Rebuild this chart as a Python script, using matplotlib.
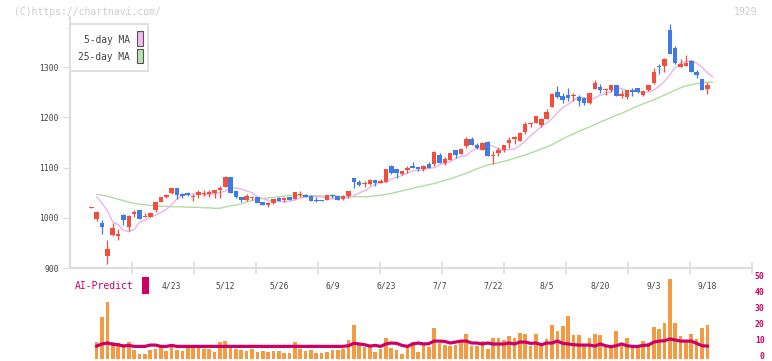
import matplotlib
matplotlib.use('Agg')
import matplotlib.pyplot as plt
import matplotlib.transforms as mtransforms
import numpy as np
from matplotlib.patches import Rectangle

# ---------------- data ----------------
opens = [1020, 998, 990, 923, 965, 963, 1005, 982, 1008, 1015,
         1001, 1001, 1015, 1031, 1042, 1049, 1059, 1047, 1049, 1041,
         1045, 1047, 1047, 1049, 1055, 1061, 1081, 1053, 1041, 1036,
         1039, 1041, 1031, 1026, 1030, 1040, 1035, 1041, 1038, 1046,
         1045, 1043, 1036, 1036, 1036, 1045, 1043, 1038, 1043, 1079,
         1071, 1067, 1067, 1075, 1070, 1072, 1103, 1098, 1087, 1095,
         1103, 1102, 1097, 1107, 1107, 1125, 1110, 1116, 1135, 1128,
         1144, 1157, 1145, 1136, 1150, 1123, 1130, 1136, 1149, 1157,
         1153, 1170, 1187, 1188, 1184, 1197, 1220, 1251, 1243, 1245,
         1243, 1241, 1238, 1229, 1256, 1261, 1254, 1255, 1265, 1243,
         1241, 1254, 1258, 1245, 1255, 1269, 1303, 1302, 1375, 1339,
         1300, 1303, 1312, 1290, 1276, 1257]
closes = [1022, 1011, 982, 937, 980, 967, 995, 1003, 1012, 997,
          1004, 1010, 1031, 1041, 1046, 1059, 1045, 1043, 1045, 1044,
          1051, 1049, 1052, 1055, 1059, 1081, 1050, 1042, 1035, 1043,
          1041, 1030, 1026, 1030, 1037, 1034, 1040, 1035, 1051, 1048,
          1042, 1034, 1034, 1034, 1045, 1043, 1036, 1043, 1053, 1072,
          1065, 1069, 1075, 1070, 1073, 1097, 1090, 1090, 1093, 1100,
          1099, 1097, 1103, 1099, 1131, 1110, 1118, 1129, 1125, 1137,
          1157, 1145, 1140, 1149, 1124, 1125, 1136, 1145, 1155, 1161,
          1169, 1187, 1189, 1203, 1196, 1211, 1247, 1241, 1234, 1239,
          1245, 1232, 1228, 1249, 1269, 1255, 1256, 1265, 1242, 1246,
          1254, 1251, 1251, 1253, 1264, 1291, 1300, 1316, 1326, 1308,
          1306, 1309, 1291, 1285, 1254, 1265]
highs = [1022, 1014, 995, 955, 989, 977, 1008, 1005, 1015, 1015,
         1009, 1012, 1032, 1041, 1046, 1059, 1059, 1049, 1051, 1047,
         1055, 1055, 1055, 1055, 1064, 1083, 1081, 1053, 1041, 1047,
         1041, 1041, 1031, 1031, 1037, 1041, 1042, 1041, 1051, 1053,
         1047, 1045, 1041, 1036, 1045, 1047, 1043, 1045, 1053, 1079,
         1075, 1073, 1077, 1075, 1077, 1097, 1105, 1098, 1093, 1103,
         1112, 1102, 1105, 1111, 1134, 1129, 1121, 1129, 1135, 1140,
         1160, 1161, 1149, 1151, 1152, 1133, 1142, 1145, 1160, 1163,
         1171, 1190, 1189, 1203, 1199, 1217, 1249, 1263, 1248, 1259,
         1249, 1244, 1241, 1249, 1275, 1266, 1258, 1265, 1265, 1254,
         1254, 1258, 1258, 1253, 1264, 1298, 1306, 1319, 1387, 1343,
         1317, 1325, 1314, 1295, 1277, 1271]
lows = [1020, 994, 967, 907, 963, 955, 985, 973, 1002, 997,
        1001, 1001, 1012, 1031, 1039, 1047, 1037, 1039, 1043, 1034,
        1039, 1044, 1042, 1039, 1039, 1061, 1050, 1039, 1032, 1033,
        1036, 1030, 1026, 1021, 1027, 1034, 1032, 1035, 1038, 1042,
        1042, 1034, 1032, 1034, 1036, 1040, 1036, 1035, 1040, 1059,
        1063, 1062, 1065, 1063, 1069, 1072, 1088, 1080, 1085, 1089,
        1099, 1093, 1093, 1099, 1103, 1110, 1105, 1116, 1119, 1128,
        1140, 1145, 1137, 1136, 1124, 1107, 1124, 1131, 1139, 1147,
        1153, 1167, 1181, 1188, 1181, 1197, 1220, 1239, 1229, 1232,
        1232, 1223, 1225, 1227, 1256, 1249, 1245, 1251, 1242, 1239,
        1237, 1242, 1249, 1242, 1252, 1266, 1286, 1291, 1326, 1306,
        1300, 1302, 1291, 1278, 1254, 1246]

# moving averages before the window is full
ma5_head = [1042, 1029, 1014, 992]
ma25_head = [1047, 1045, 1043, 1040, 1037, 1034, 1031, 1029, 1027, 1026,
             1025, 1024, 1023, 1023, 1022, 1022, 1022, 1021, 1021, 1021,
             1020, 1020, 1019, 1019]

# volume (from 2nd session on)
volume = [10.6, 26.3, 35.6, 10.6, 10.0, 9.2, 10.6, 5.4, 2.9, 2.9,
          5.4, 6.0, 7.5, 4.8, 7.1, 5.4, 5.0, 7.5, 7.5, 7.5,
          6.0, 6.0, 4.2, 10.6, 11.3, 7.1, 6.3, 5.4, 4.6, 6.0,
          4.4, 4.8, 4.0, 4.8, 4.8, 3.5, 3.5, 10.4, 6.3, 5.0,
          5.4, 3.5, 3.5, 4.4, 5.4, 5.4, 6.0, 11.7, 21.0, 10.0,
          7.1, 7.1, 4.4, 6.0, 12.9, 6.7, 5.4, 2.9, 7.5, 10.4,
          4.4, 9.2, 7.1, 19.2, 10.0,
          8.75, 7.7, 8.5, 11.5, 15.4, 7.9, 7.9, 11.0, 6.0, 12.9,
          12.9, 11.7, 14.2, 12.9, 16.0, 15.4, 7.9, 15.4, 7.9, 12.3,
          21.0, 17.3, 20.4, 26.7, 14.8, 14.8, 7.9, 12.9, 15.4, 14.8,
          7.9, 7.9, 17.3, 7.9, 12.9, 7.9, 7.9, 11.0, 9.8, 19.8,
          18.5, 22.3, 49.8, 22.3, 14.2, 10.4, 15.4, 12.3, 19.2, 21.0]
ai_predict = [7.9, 9.2, 9.8, 9.0, 8.75, 7.9, 8.3, 7.7, 7.7, 7.7,
              8.5, 8.5, 7.7, 7.7, 8.3, 7.7, 7.7, 7.7, 7.7, 7.7,
              7.7, 7.7, 7.7, 7.7, 7.7, 7.7, 7.7, 7.7, 7.7, 7.7,
              7.7, 7.7, 7.7, 7.7, 7.7, 7.7, 7.7, 7.7, 7.7, 7.7,
              7.7, 7.7, 7.7, 7.7, 7.7, 7.7, 7.7, 8.1, 9.6, 9.2,
              8.75, 7.9, 8.3, 7.7, 9.2, 9.8, 9.6, 8.3, 7.7, 9.2,
              9.8, 9.2, 9.4, 11.0, 11.0,
              10.8, 9.8, 10.4, 11.0, 11.0, 9.8, 9.8, 9.2, 9.8, 9.2,
              9.2, 9.2, 9.8, 9.2, 10.4, 10.4, 9.6, 9.8, 8.75, 9.8,
              9.8, 11.0, 9.6, 9.2, 8.75, 8.5, 8.5, 8.5, 7.9, 9.2,
              8.1, 7.5, 8.1, 9.2, 8.1, 7.7, 7.7, 8.3, 8.5, 10.4,
              11.0, 11.25, 12.3, 11.7, 11.0, 11.0, 11.0, 9.6, 8.1, 7.9]

date_labels = ['4/23', '5/12', '5/26', '6/9', '6/23', '7/7', '7/22',
               '8/5', '8/20', '9/3', '9/18']
date_label_idx = [15, 25, 35, 45, 55, 65, 75, 85, 95, 105, 115]
price_ticks = [900, 1000, 1100, 1200, 1300]
vol_ticks = [0, 10, 20, 30, 40, 50]

# ---------------- layout ----------------
W, H = 772, 361
fig = plt.figure(figsize=(W / 100, H / 100), dpi=100)
MONO = 'DejaVu Sans Mono'
RED = '#f24e3c'
BLUE = '#3f7ae6'
GRID = '#dddddd'

x0_px, dx_px = 91.3, 5.357
xl = ((70 - x0_px) / dx_px, (752 - x0_px) / dx_px)

# volume panel (drawn first, transparent background)
axv = fig.add_axes([70 / W, (H - 358.7) / H, (752 - 70) / W, 80 / H])
axv.patch.set_visible(False)
axv.set_xlim(*xl)
axv.set_ylim(0, 50)
vidx = np.arange(1, len(volume) + 1)
axv.bar(vidx, volume, width=0.68, color='#f39a42', lw=0)
axv.plot(vidx, ai_predict, color='#cc0066', lw=2.3, solid_joinstyle='miter')
for s in axv.spines.values():
    s.set_visible(False)
axv.set_xticks([])
axv.yaxis.tick_right()
axv.set_yticks(vol_ticks)
axv.set_yticklabels([str(t) for t in vol_ticks], family=MONO, fontsize=5.8,
                    color='#cc0066', fontweight='bold')
axv.tick_params(axis='y', length=0, pad=9)
lift = mtransforms.ScaledTranslation(0, 2 / 100, fig.dpi_scale_trans)
for t in axv.get_yticklabels():
    t.set_horizontalalignment('right')
    t.set_verticalalignment('center')
    t.set_transform(t.get_transform() + lift)

ax = fig.add_axes([70 / W, (H - 268) / H, (752 - 70) / W, (268 - 17) / H])
ax.patch.set_visible(False)
ax.set_xlim(*xl)
ax.set_ylim(900, 1400)

n = len(opens)
idx = np.arange(n)
o = np.array(opens, float)
c = np.array(closes, float)
h = np.array(highs, float)
l = np.array(lows, float)
cols = [RED if cc >= oo else BLUE for oo, cc in zip(o, c)]

# moving averages (plotted one session later)
cs = np.array(closes, float)
ma5 = list(ma5_head) + [cs[i - 4:i + 1].mean() for i in range(4, n)]
ma25 = list(ma25_head) + [cs[i - 24:i + 1].mean() for i in range(24, n)]
ax.plot(idx + 1, ma25, color='#b3dba3', lw=1.0, zorder=1)
ax.plot(idx + 1, ma5, color='#eab4ee', lw=1.0, zorder=1)

ax.vlines(idx, l, h, colors=cols, lw=0.9, zorder=2)
ax.bar(idx, np.abs(c - o), bottom=np.minimum(o, c), width=0.85,
       color=cols, lw=0, zorder=3)

for s in ['top', 'right']:
    ax.spines[s].set_visible(False)
for s in ['left', 'bottom']:
    ax.spines[s].set_color(GRID)
    ax.spines[s].set_linewidth(1.6)

ax.set_yticks(price_ticks)
ax.set_yticklabels([str(t) for t in price_ticks], family=MONO, fontsize=5.8,
                   color='#444444')
ax.tick_params(axis='y', direction='out', length=5, width=1, color=GRID, pad=3)

ax.set_xticks(np.linspace(xl[0], xl[1], 12)[1:])
ax.set_xticklabels([])
ax.tick_params(axis='x', which='major', direction='inout', length=8,
               width=1.2, color=GRID)
ax.set_xticks(date_label_idx, minor=True)
ax.set_xticklabels(date_labels, minor=True, family=MONO, fontsize=5.8,
                   color='#444444')
ax.tick_params(axis='x', which='minor', length=0, pad=10)


def fx(px):
    return px / W


def fy(py):
    return 1 - py / H


# legend box
fig.patches.append(Rectangle((fx(70), fy(71)), fx(148) - fx(70), fy(24) - fy(71),
                             transform=fig.transFigure, facecolor='white',
                             edgecolor=GRID, lw=1.3, zorder=5))
fig.text(fx(130), fy(40), '5-day MA', ha='right', va='center', family=MONO,
         fontsize=6.9, color='#444444', zorder=6)
fig.text(fx(130), fy(57), '25-day MA', ha='right', va='center', family=MONO,
         fontsize=6.9, color='#444444', zorder=6)
fig.patches.append(Rectangle((fx(137), fy(46)), fx(6), fy(0) - fy(15),
                             transform=fig.transFigure, facecolor='#f0bcf0',
                             edgecolor='#555555', lw=0.8, zorder=6))
fig.patches.append(Rectangle((fx(137), fy(63)), fx(6), fy(0) - fy(14),
                             transform=fig.transFigure, facecolor='#bde0b0',
                             edgecolor='#555555', lw=0.8, zorder=6))

fig.text(fx(14), fy(12), '(C)https://chartnavi.com/', ha='left', va='center',
         family=MONO, fontsize=7, color='#cccccc')
fig.text(fx(757), fy(12), '1929', ha='right', va='center',
         family=MONO, fontsize=7, color='#cccccc')

fig.text(fx(75), fy(286), 'AI-Predict', ha='left', va='center', family=MONO,
         fontsize=7, color='#cc0066')
fig.patches.append(Rectangle((fx(142), fy(294)), fx(7), fy(0) - fy(17),
                             transform=fig.transFigure, facecolor='#cc0066',
                             edgecolor='none', zorder=6))

fig.savefig('out.png', dpi=100, facecolor='white')
